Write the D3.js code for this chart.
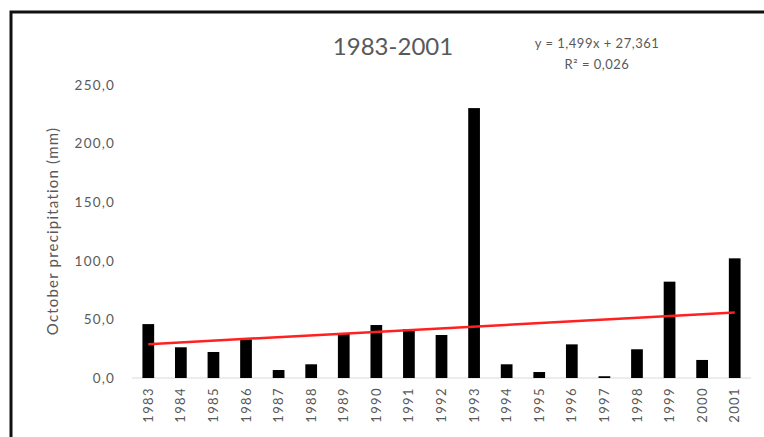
<!DOCTYPE html>
<html>
<head>
<meta charset="utf-8">
<script src="https://cdn.jsdelivr.net/npm/d3@7"></script>
<style>
  body { margin: 0; background: #fff; }
  svg { display: block; font-family: Lato, "Open Sans", sans-serif; }
</style>
</head>
<body>
<div id="chart"></div>
<script>
// October precipitation per year (mm)
const years = ["1983","1984","1985","1986","1987","1988","1989","1990","1991","1992",
               "1993","1994","1995","1996","1997","1998","1999","2000","2001"];
const precip = [46.0, 26.2, 22.2, 33.0, 6.8, 11.7, 38.0, 45.2, 41.5, 36.7,
                230.3, 11.7, 5.1, 28.7, 1.5, 24.5, 82.2, 15.4, 102.1];
const yTicks = [0, 50, 100, 150, 200, 250];
// linear trend y = 1,499x + 27,361 (x = 1..19)
const trendSlope = 1.499;
const trendIntercept = 27.361;

const width = 764, height = 437;
const grey = "#595959";

const svg = d3.select("#chart")
  .append("svg")
  .attr("width", width)
  .attr("height", height);

// outer frame (left and top edges visible)
svg.append("path")
  .attr("d", `M11,${height} L11,12 L${width},12`)
  .attr("fill", "none")
  .attr("stroke", "#111")
  .attr("stroke-width", 3);

const x = d3.scaleBand()
  .domain(years)
  .range([132, 751])
  .paddingInner(0.64)
  .paddingOuter(0.32);

const y = d3.scaleLinear()
  .domain([0, 250])
  .range([378, 85]);

const fmt = v => d3.format(".1f")(v).replace(".", ",");

// y tick labels (no axis line)
svg.append("g")
  .selectAll("text")
  .data(yTicks)
  .enter()
  .append("text")
  .attr("x", 115)
  .attr("y", d => y(d))
  .attr("dy", "0.35em")
  .attr("text-anchor", "end")
  .attr("font-size", 13.5)
  .attr("letter-spacing", 1.2)
  .attr("fill", grey)
  .text(fmt);

// baseline
svg.append("line")
  .attr("x1", 132).attr("x2", 751)
  .attr("y1", y(0)).attr("y2", y(0))
  .attr("stroke", "#d9d9d9")
  .attr("stroke-width", 1);

// bars
svg.append("g")
  .selectAll("rect")
  .data(years)
  .enter()
  .append("rect")
  .attr("x", d => x(d))
  .attr("y", (d, i) => y(precip[i]))
  .attr("width", x.bandwidth())
  .attr("height", (d, i) => y(0) - y(precip[i]))
  .attr("fill", "#000");

// x labels, rotated
svg.append("g")
  .selectAll("text")
  .data(years)
  .enter()
  .append("text")
  .attr("transform", d => `translate(${x(d) + x.bandwidth() / 2},387) rotate(-90)`)
  .attr("dy", "0.35em")
  .attr("text-anchor", "end")
  .attr("font-size", 13)
  .attr("letter-spacing", 1.4)
  .attr("fill", grey)
  .text(d => d);

// trend line
const first = years[0], last = years[years.length - 1];
svg.append("line")
  .attr("x1", x(first) + x.bandwidth() / 2)
  .attr("y1", y(trendSlope * 1 + trendIntercept))
  .attr("x2", x(last) + x.bandwidth() / 2)
  .attr("y2", y(trendSlope * years.length + trendIntercept))
  .attr("stroke", "#ff2020")
  .attr("stroke-width", 2.5);

// y axis title
svg.append("text")
  .attr("transform", "translate(53,231) rotate(-90)")
  .attr("dy", "0.35em")
  .attr("text-anchor", "middle")
  .attr("font-size", 15)
  .attr("letter-spacing", 1.2)
  .attr("fill", grey)
  .text("October precipitation (mm)");

// chart title
svg.append("text")
  .attr("x", 393)
  .attr("y", 55)
  .attr("text-anchor", "middle")
  .attr("font-size", 24)
  .attr("fill", grey)
  .text("1983-2001");

// trend equation
svg.append("text")
  .attr("x", 597)
  .attr("y", 43)
  .attr("dy", "0.35em")
  .attr("text-anchor", "middle")
  .attr("font-size", 13)
  .attr("letter-spacing", 0.5)
  .attr("fill", grey)
  .text("y = 1,499x + 27,361");

svg.append("text")
  .attr("x", 597)
  .attr("y", 64)
  .attr("dy", "0.35em")
  .attr("text-anchor", "middle")
  .attr("font-size", 13)
  .attr("letter-spacing", 0.5)
  .attr("fill", grey)
  .text("R² = 0,026");
</script>
</body>
</html>
